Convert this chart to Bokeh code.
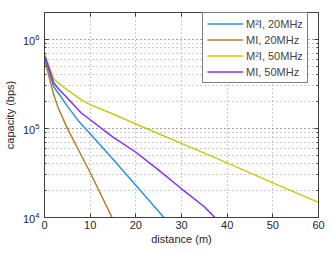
from bokeh.plotting import figure
from bokeh.models import Range1d, Legend, LegendItem, FixedTicker, LogTicker, LinearAxis, LogAxis
from bokeh.embed import file_html
from bokeh.resources import INLINE

# M2I, 20 MHz
d_m2i_20 = [0, 1, 2, 3, 5, 7.5, 10, 15, 20, 25, 27]
c_m2i_20 = [6.3e5, 4.3e5, 2.95e5, 2.5e5, 1.78e5, 1.2e5, 8.7e4, 4.5e4, 2.3e4, 1.17e4, 8.9e3]
# MI, 20 MHz
d_mi_20 = [0, 1, 2, 3, 5, 10, 15]
c_mi_20 = [5.9e5, 3.8e5, 2.4e5, 1.7e5, 1.0e5, 3.2e4, 9.5e3]
# M2I, 50 MHz
d_m2i_50 = [0, 1, 2, 3, 5, 8, 10, 15, 20, 30, 40, 50, 60]
c_m2i_50 = [6.9e5, 5.0e5, 3.6e5, 3.25e5, 2.7e5, 2.1e5, 1.85e5, 1.45e5, 1.12e5, 6.8e4, 4.1e4, 2.45e4, 1.48e4]
# MI, 50 MHz
d_mi_50 = [0, 1, 2, 3, 5, 8, 10, 15, 20, 25, 30, 35, 38]
c_mi_50 = [6.6e5, 4.7e5, 3.25e5, 2.8e5, 2.2e5, 1.5e5, 1.25e5, 8.0e4, 5.4e4, 3.4e4, 2.1e4, 1.32e4, 9.2e3]

labels = ["M²I, 20MHz", "MI, 20MHz", "M²I, 50MHz", "MI, 50MHz"]
colors = ["#2596d6", "#b7822a", "#c9c90f", "#8b2cf2"]
x_ticks = [0, 10, 20, 30, 40, 50, 60]

FONT = "Liberation Sans"
AX = "#404040"

p = figure(frame_width=274, frame_height=205, y_axis_type="log",
           x_range=Range1d(0, 60), y_range=Range1d(1e4, 2e6),
           output_backend="svg", toolbar_location=None,
           min_border_left=36, min_border_right=7,
           min_border_top=12, min_border_bottom=28)

series = [(d_m2i_20, c_m2i_20), (d_mi_20, c_mi_20), (d_m2i_50, c_m2i_50), (d_mi_50, c_mi_50)]
items = []
for (xs, ys), lab, col in zip(series, labels, colors):
    r = p.line(xs, ys, line_color=col, line_width=1.5)
    items.append(LegendItem(label=lab, renderers=[r]))

legend = Legend(items=items, location=(158, 134),
                label_text_font=FONT, label_text_font_size="11px",
                label_height=13, glyph_height=13, glyph_width=36,
                label_standoff=3,
                spacing=3, padding=4, margin=0,
                border_line_color="black", border_line_width=1,
                background_fill_alpha=1.0)
p.add_layout(legend)

xax = p.below[0]
yax = p.left[0]
xax.ticker = FixedTicker(ticks=x_ticks)
yax.ticker = LogTicker(num_minor_ticks=10)

for ax in [xax, yax]:
    ax.major_label_text_font = FONT
    ax.major_label_text_font_size = "11px"
    ax.major_label_text_color = "#262626"
    ax.axis_label_text_font = FONT
    ax.axis_label_text_font_size = "11px"
    ax.axis_label_text_font_style = "normal"
    ax.axis_label_text_color = "#262626"
    ax.axis_line_color = AX
    ax.major_tick_line_color = AX
    ax.minor_tick_line_color = AX
    ax.major_tick_in = 4
    ax.major_tick_out = 0
    ax.minor_tick_in = 2
    ax.minor_tick_out = 0

xax.axis_label_standoff = 1
xax.major_label_standoff = 3
yax.axis_label_standoff = 4
yax.major_label_standoff = 5

xax.axis_label = "distance (m)"
yax.axis_label = "capacity (bps)"

# box ticks on top and right (labels hidden)
top = LinearAxis(ticker=FixedTicker(ticks=x_ticks),
                 major_label_text_font_size="1px", major_label_text_alpha=0,
                 major_label_standoff=0, major_tick_in=4, major_tick_out=0,
                 minor_tick_in=0, minor_tick_out=0, axis_line_color=AX,
                 major_tick_line_color=AX)
right = LogAxis(ticker=LogTicker(num_minor_ticks=10),
                major_label_text_font_size="1px", major_label_text_alpha=0,
                major_label_standoff=0, major_tick_in=4, major_tick_out=0,
                minor_tick_in=2, minor_tick_out=0, axis_line_color=AX,
                major_tick_line_color=AX, minor_tick_line_color=AX)
p.add_layout(top, "above")
p.add_layout(right, "right")

p.xgrid.grid_line_color = "#999999"
p.xgrid.grid_line_dash = "1 3"
p.ygrid.grid_line_color = "#999999"
p.ygrid.grid_line_dash = "1 3"
p.ygrid.minor_grid_line_color = "#999999"
p.ygrid.minor_grid_line_dash = "1 3"

p.outline_line_color = AX
p.outline_line_width = 1
p.background_fill_color = "white"
p.border_fill_color = "white"

open("out.html", "w").write(file_html(p, INLINE))
